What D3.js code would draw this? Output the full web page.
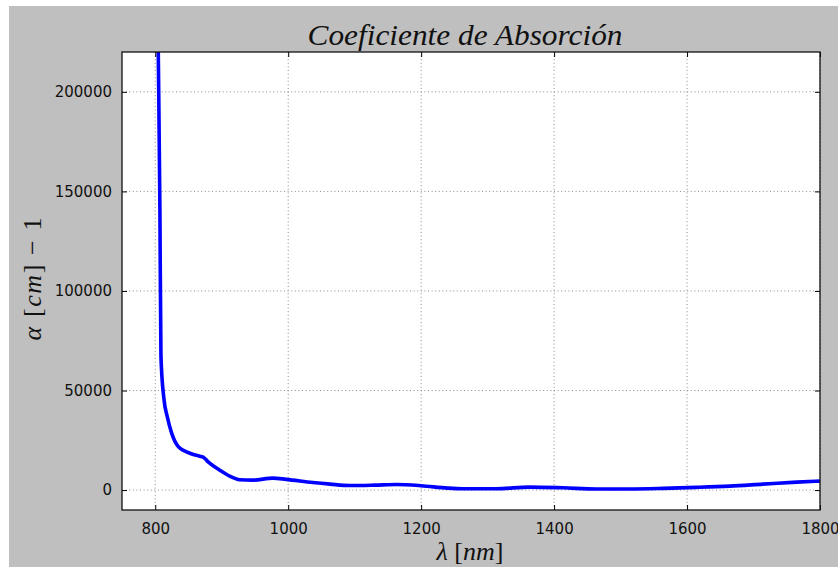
<!DOCTYPE html>
<html>
<head>
<meta charset="utf-8">
<script src="https://cdn.jsdelivr.net/npm/d3@7"></script>
<style>
  body { margin: 0; background: #ffffff; }
  svg { display: block; }
</style>
</head>
<body>
<div id="chart"></div>
<script>
// wavelength (nm) and absorption coefficient
var wavelength = [802, 804.6, 807, 808.6, 813, 818, 824.7, 834.7, 852, 867, 872, 880, 897, 912, 927, 947, 977, 997,
                  1037, 1063, 1093, 1130, 1163, 1200, 1240, 1263, 1313, 1363, 1413, 1464, 1514, 1564, 1614, 1664, 1714, 1765, 1800];
var alpha = [300000, 219000, 142000, 67000, 46000, 37000, 28600, 21800, 18500, 17000, 16600, 14000, 10000, 7000, 5200, 5000, 6000, 5400,
             3800, 3000, 2300, 2500, 2800, 2200, 1000, 700, 700, 1500, 1150, 550, 550, 850, 1350, 2000, 3000, 4000, 4500];

var xTicks = [800, 1000, 1200, 1400, 1600, 1800];
var yTicks = [0, 50000, 100000, 150000, 200000];

var W = 838, H = 567;
var margin = {top: 52, right: 18, bottom: 57, left: 122},
    width = W - margin.left - margin.right,
    height = H - margin.top - margin.bottom;

var svg = d3.select("#chart").append("svg")
    .attr("width", W)
    .attr("height", H);

// grey figure background (white strip left and top as in the original)
svg.append("rect")
    .attr("x", 9).attr("y", 6)
    .attr("width", W - 9).attr("height", H - 6)
    .attr("fill", "#bfbfbf");

var x = d3.scaleLinear().domain([750, 1800]).range([0, width]);
var y = d3.scaleLinear().domain([-10000, 220000]).range([height, 0]);

var g = svg.append("g")
    .attr("transform", "translate(" + margin.left + "," + margin.top + ")");

g.append("rect")
    .attr("width", width).attr("height", height)
    .attr("fill", "#ffffff");

g.append("clipPath").attr("id", "clip")
  .append("rect").attr("width", width).attr("height", height);

// dotted grid
g.append("g").selectAll("line").data(xTicks).enter().append("line")
    .attr("x1", function(d) { return x(d); }).attr("x2", function(d) { return x(d); })
    .attr("y1", 0).attr("y2", height)
    .attr("stroke", "#8a8a8a").attr("stroke-width", 1).attr("stroke-dasharray", "1,2.6");
g.append("g").selectAll("line").data(yTicks).enter().append("line")
    .attr("y1", function(d) { return y(d); }).attr("y2", function(d) { return y(d); })
    .attr("x1", 0).attr("x2", width)
    .attr("stroke", "#8a8a8a").attr("stroke-width", 1).attr("stroke-dasharray", "1,2.6");

// the curve
var pts = wavelength.map(function(d, i) { return [d, alpha[i]]; });
g.append("path")
    .datum(pts)
    .attr("clip-path", "url(#clip)")
    .attr("fill", "none")
    .attr("stroke", "#0000ff")
    .attr("stroke-width", 3.6)
    .attr("stroke-linejoin", "round")
    .attr("d", d3.line()
        .curve(d3.curveMonotoneX)
        .x(function(d) { return x(d[0]); })
        .y(function(d) { return y(d[1]); }));

// axes: ticks inward on all four sides
var tickStyle = function(sel) {
    sel.select(".domain").remove();
    sel.selectAll("line").attr("stroke", "#000").attr("stroke-width", 1);
    sel.selectAll("text").attr("font-family", "DejaVu Sans, sans-serif").attr("font-size", "15px").attr("fill", "#111");
};

g.append("g")
    .attr("transform", "translate(0," + height + ")")
    .call(d3.axisBottom(x).tickValues(xTicks).tickSizeInner(-5).tickSizeOuter(0).tickPadding(13).tickFormat(d3.format("d")))
    .call(tickStyle);
g.append("g")
    .call(d3.axisTop(x).tickValues(xTicks).tickSizeInner(-5).tickSizeOuter(0).tickFormat(""))
    .call(tickStyle);
g.append("g")
    .call(d3.axisLeft(y).tickValues(yTicks).tickSizeInner(-5).tickSizeOuter(0).tickPadding(10).tickFormat(d3.format("d")))
    .call(tickStyle);
g.append("g")
    .attr("transform", "translate(" + width + ",0)")
    .call(d3.axisRight(y).tickValues(yTicks).tickSizeInner(-5).tickSizeOuter(0).tickFormat(""))
    .call(tickStyle);

// frame
g.append("rect")
    .attr("width", width).attr("height", height)
    .attr("fill", "none").attr("stroke", "#111").attr("stroke-width", 1.3);

// title and axis labels
var serif = "Liberation Serif, DejaVu Serif, serif";
svg.append("text")
    .attr("x", 465).attr("y", 45)
    .attr("text-anchor", "middle")
    .attr("font-family", serif).attr("font-style", "italic").attr("font-size", "29px")
    .attr("fill", "#111")
    .attr("textLength", 315).attr("lengthAdjust", "spacingAndGlyphs")
    .text("Coeficiente de Absorción");

var xl = svg.append("text")
    .attr("x", 470).attr("y", 560)
    .attr("text-anchor", "middle")
    .attr("font-family", serif).attr("font-size", "26px").attr("fill", "#111");
xl.append("tspan").attr("font-style", "italic").text("λ");
xl.append("tspan").text(" [");
xl.append("tspan").attr("font-style", "italic").text("nm");
xl.append("tspan").text("]");

var yl = svg.append("text")
    .attr("transform", "translate(41,279) rotate(-90)")
    .attr("text-anchor", "middle")
    .attr("font-family", serif).attr("font-size", "26px").attr("fill", "#111")
    .attr("textLength", 123).attr("lengthAdjust", "spacing");
yl.append("tspan").attr("font-style", "italic").text("α");
yl.append("tspan").text(" [");
yl.append("tspan").attr("font-style", "italic").text("cm");
yl.append("tspan").text("]  −  1");
</script>
</body>
</html>
